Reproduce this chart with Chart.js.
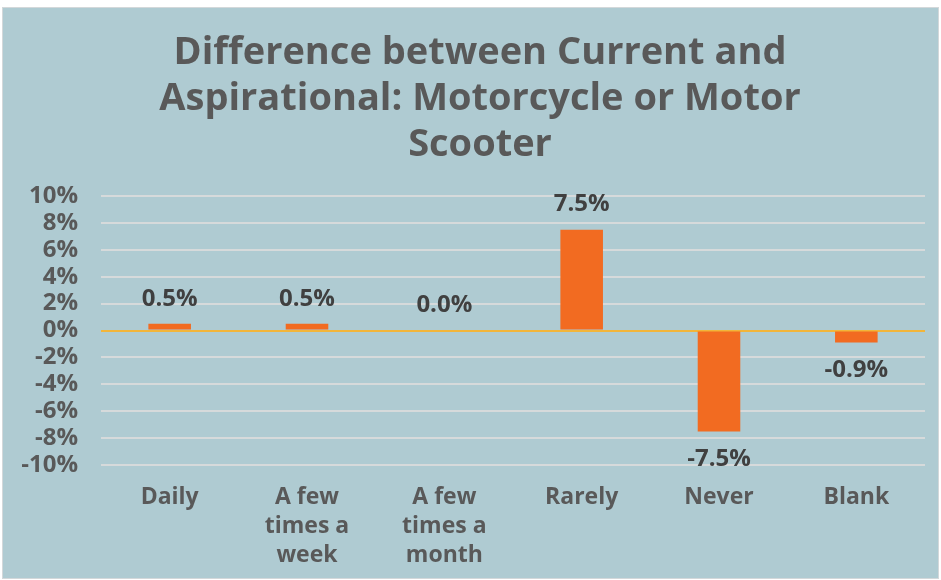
<!DOCTYPE html>
<html>
<head>
<meta charset="utf-8">
<script src="https://cdn.jsdelivr.net/npm/chart.js@4/dist/chart.umd.min.js"></script>
<style>
  html, body { margin: 0; padding: 0; background: #ffffff; }
  #panel {
    position: absolute; left: 3px; top: 8px;
    width: 935px; height: 570px;
    background: #AFCBD2;
    box-shadow: 0 0 0 1px #d3d8da;
  }
  #chart { display: block; }
</style>
</head>
<body>
<div id="panel"><canvas id="chart" width="935" height="570"></canvas></div>
<script>
// categories and values (percent)
var categories = ['Daily', ['A few', 'times a', 'week'], ['A few', 'times a', 'month'], 'Rarely', 'Never', 'Blank'];
var differences = [0.5, 0.5, 0.0, 7.5, -7.5, -0.9];
var titleLines = ['Difference between Current and', 'Aspirational: Motorcycle or Motor', 'Scooter'];

var mainFont = "'Open Sans', 'DejaVu Sans', sans-serif";

// title drawn by hand so it can sit a bit right of the canvas centre, like the original
var titleBlock = {
    id: 'titleBlock',
    afterDraw: function(chart) {
        var ctx = chart.ctx;
        ctx.save();
        ctx.font = 'bold 38px ' + mainFont;
        ctx.fillStyle = '#595959';
        ctx.textAlign = 'center';
        ctx.textBaseline = 'middle';
        titleLines.forEach(function(line, i) {
            ctx.fillText(line, 477, 45 + i * 46);
        });
        ctx.restore();
    }
};

// draw value labels above / below each bar
var valueLabels = {
    id: 'valueLabels',
    afterDatasetsDraw: function(chart) {
        var ctx = chart.ctx;
        var meta = chart.getDatasetMeta(0);
        ctx.save();
        ctx.font = 'bold 24px ' + mainFont;
        ctx.fillStyle = '#404040';
        ctx.textAlign = 'center';
        ctx.textBaseline = 'middle';
        meta.data.forEach(function(bar, i) {
            var v = differences[i];
            var y = v >= 0 ? bar.y - 25 : bar.y + 28;
            ctx.fillText(v.toFixed(1) + '%', bar.x, y);
        });
        ctx.restore();
    }
};

var ctx = document.getElementById('chart').getContext('2d');
new Chart(ctx, {
    type: 'bar',
    data: {
        labels: categories,
        datasets: [{
            data: differences,
            backgroundColor: '#F26B21',
            borderWidth: 0,
            barPercentage: 0.31,
            categoryPercentage: 1
        }]
    },
    options: {
        responsive: false,
        animation: false,
        layout: { padding: { left: 10, right: 13, top: 188, bottom: 0 } },
        plugins: {
            legend: { display: false },
            tooltip: { enabled: false },
            title: { display: false }
        },
        scales: {
            x: {
                grid: { display: false },
                border: { display: false },
                ticks: {
                    color: '#595959',
                    font: { family: mainFont, size: 23, weight: 'bold', lineHeight: '29px' },
                    padding: 10,
                    maxRotation: 0,
                    autoSkip: false
                },
                afterFit: function(scale) { scale.height = 113; }
            },
            y: {
                min: -10,
                max: 10,
                grid: {
                    drawTicks: false,
                    lineWidth: 2,
                    color: function(c) { return c.tick && c.tick.value === 0 ? '#F2B53A' : '#D6DADB'; }
                },
                border: { display: false },
                ticks: {
                    stepSize: 2,
                    autoSkip: false,
                    padding: 23,
                    color: '#595959',
                    font: { family: mainFont, size: 24, weight: 'bold' },
                    callback: function(v) { return v + '%'; }
                },
                afterFit: function(scale) { scale.width = 88; }
            }
        }
    },
    plugins: [valueLabels, titleBlock]
});
</script>
</body>
</html>
